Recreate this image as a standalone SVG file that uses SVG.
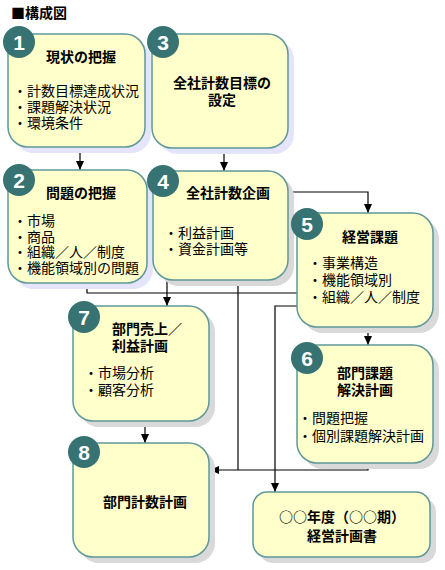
<svg xmlns="http://www.w3.org/2000/svg" width="445" height="570" viewBox="0 0 445 570">
<style>
.box{fill:#ffffcc;stroke:#5f9898;stroke-width:1.5}
.shL{fill:#e4e4fa}
.shG{fill:#d9d9d9}
.badge{fill:#377373}
.num{font-family:"Liberation Sans",Arial,sans-serif;font-weight:bold;font-size:21px;fill:#ffffff;text-anchor:middle}
.t{font-family:"Liberation Sans","Noto Sans CJK JP","Noto Sans CJK SC",sans-serif;font-size:14px;font-weight:bold;fill:#000}
.c{text-anchor:middle}
.b{font-family:"Liberation Sans","Noto Sans CJK JP","Noto Sans CJK SC",sans-serif;font-size:14px;fill:#000}
.j{font-family:"Noto Sans CJK JP","Noto Sans CJK SC",sans-serif}
.ln{fill:none;stroke:#000;stroke-width:1.2}
</style>
<defs>
<marker id="ah" markerWidth="10" markerHeight="10" refX="9" refY="5" orient="auto" markerUnits="userSpaceOnUse">
<path d="M0,1 L9,5 L0,9 Z" fill="#000"/>
</marker>
</defs>
<rect width="445" height="570" fill="#ffffff"/>
<text x="11" y="18" class="t"><tspan class="j">■</tspan>構成図</text>

<g id="connectors">
<path class="ln" d="M80,147 V170" marker-end="url(#ah)"/>
<path class="ln" d="M224,148 V171" marker-end="url(#ah)"/>
<path class="ln" d="M288,192 H368 V213" marker-end="url(#ah)"/>
<path class="ln" d="M87,283 V293 H297"/>
<path class="ln" d="M167,280 V306" marker-end="url(#ah)"/>
<path class="ln" d="M238,280 V470"/>
<path class="ln" d="M368,327 V345" marker-end="url(#ah)"/>
<path class="ln" d="M297,306 H275 V492" marker-end="url(#ah)"/>
<path class="ln" d="M145,421 V443" marker-end="url(#ah)"/>
<path class="ln" d="M368,463 V470 H210" marker-end="url(#ah)"/>
</g>

<g id="node1">
<rect class="shL" x="14" y="40" width="137" height="113" rx="20"/>
<rect class="box" x="8" y="34" width="137" height="113" rx="20"/>
<circle class="badge" cx="19" cy="42" r="16"/>
<text class="num" x="19" y="50">1</text>
<text class="t c" x="81" y="62">現状の把握</text>
<text class="b" x="13" y="96">・計数目標達成状況</text>
<text class="b" x="13" y="112">・課題解決状況</text>
<text class="b" x="13" y="128">・環境条件</text>
</g>

<g id="node3">
<rect class="shL" x="158" y="40" width="136" height="114" rx="20"/>
<rect class="box" x="152" y="34" width="136" height="114" rx="20"/>
<circle class="badge" cx="163" cy="42" r="16"/>
<text class="num" x="163" y="50">3</text>
<text class="t c" x="222" y="88">全社計数目標の</text>
<text class="t c" x="222" y="105">設定</text>
</g>

<g id="node2">
<rect class="shL" x="14" y="176" width="139" height="113" rx="20"/>
<rect class="box" x="8" y="170" width="139" height="113" rx="20"/>
<circle class="badge" cx="19" cy="180" r="16"/>
<text class="num" x="19" y="188">2</text>
<text class="t c" x="81" y="198">問題の把握</text>
<text class="b" x="13" y="226">・市場</text>
<text class="b" x="13" y="242">・商品</text>
<text class="b" x="13" y="257">・組織／人／制度</text>
<text class="b" x="13" y="273">・機能領域別の問題</text>
</g>

<g id="node4">
<rect class="shG" x="159" y="177" width="135" height="109" rx="20"/>
<rect class="box" x="153" y="171" width="135" height="109" rx="20"/>
<circle class="badge" cx="163" cy="181" r="16"/>
<text class="num" x="163" y="189">4</text>
<text class="t c" x="228" y="198">全社計数企画</text>
<text class="b" x="164" y="238">・利益計画</text>
<text class="b" x="164" y="254">・資金計画等</text>
</g>

<g id="node5">
<rect class="shG" x="303" y="219" width="136" height="114" rx="20"/>
<rect class="box" x="297" y="213" width="136" height="114" rx="20"/>
<circle class="badge" cx="307" cy="224" r="16"/>
<text class="num" x="307" y="232">5</text>
<text class="t c" x="370" y="242">経営課題</text>
<text class="b" x="308" y="268">・事業構造</text>
<text class="b" x="308" y="285">・機能領域別</text>
<text class="b" x="308" y="302">・組織／人／制度</text>
</g>

<g id="node7">
<rect class="shG" x="79" y="312" width="136" height="115" rx="20"/>
<rect class="box" x="73" y="306" width="136" height="115" rx="20"/>
<circle class="badge" cx="84" cy="317" r="16"/>
<text class="num" x="84" y="325">7</text>
<text class="t" x="112" y="334">部門売上／</text>
<text class="t" x="112" y="351">利益計画</text>
<text class="b" x="84" y="378">・市場分析</text>
<text class="b" x="84" y="395">・顧客分析</text>
</g>

<g id="node6">
<rect class="shG" x="303" y="351" width="136" height="118" rx="20"/>
<rect class="box" x="297" y="345" width="136" height="118" rx="20"/>
<circle class="badge" cx="307" cy="358" r="16"/>
<text class="num" x="307" y="366">6</text>
<text class="t" x="337" y="378">部門課題</text>
<text class="t" x="337" y="395">解決計画</text>
<text class="b" x="298" y="423">・問題把握</text>
<text class="b" x="298" y="441">・個別課題解決計画</text>
</g>

<g id="node8">
<rect class="shG" x="79" y="449" width="136" height="114" rx="20"/>
<rect class="box" x="73" y="443" width="136" height="114" rx="20"/>
<circle class="badge" cx="84" cy="452" r="16"/>
<text class="num" x="84" y="460">8</text>
<text class="t c" x="145" y="507">部門計数計画</text>
</g>

<g id="nodePlan">
<rect class="shG" x="259" y="498" width="177" height="65" rx="14"/>
<rect class="box" x="253" y="492" width="177" height="65" rx="14"/>
<text class="t c" x="342" y="522"><tspan class="j">○○</tspan>年度（<tspan class="j">○○</tspan>期）</text>
<text class="t c" x="342" y="541">経営計画書</text>
</g>
</svg>
